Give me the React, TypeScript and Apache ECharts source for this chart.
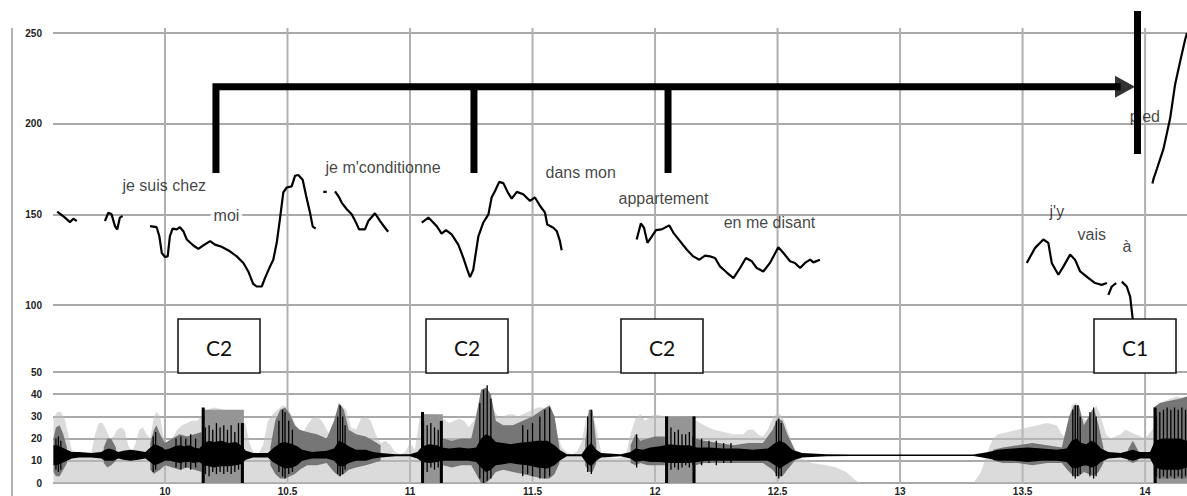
import React, { useEffect, useRef } from "react";
import * as echarts from "echarts";

// ---------- axes ----------
const timeMin = 9.543;
const timeMax = 14.171;
const timeTicks = [10, 10.5, 11, 11.5, 12, 12.5, 13, 13.5, 14];
const f0Min = 100;
const f0Max = 250;
const f0Step = 50;
const intMin = 0;
const intMax = 50;
const intStep = 10;

// ---------- F0 contour (time s, Hz) ----------
const f0SegA = [[9.560, 151.5], [9.592, 148.2], [9.612, 145.7], [9.626, 147.6], [9.640, 146.3]];
const f0SegB = [[9.755, 146.3], [9.769, 150.9], [9.782, 150.0], [9.796, 143.5], [9.805, 141.7], [9.816, 148.2], [9.827, 149.1]];
const f0SegC = [[9.939, 143.5], [9.966, 142.9], [9.977, 137.9], [9.987, 128.7], [10.000, 126.5], [10.011, 126.8], [10.020, 137.9], [10.031, 142.1], [10.048, 141.7], [10.061, 142.9], [10.075, 140.7], [10.089, 136.1], [10.116, 132.8], [10.136, 130.9], [10.156, 132.8], [10.184, 135.2], [10.204, 133.3], [10.231, 132.1], [10.265, 129.6], [10.293, 126.8], [10.320, 123.2], [10.340, 118.5], [10.360, 111.7], [10.374, 110.2], [10.395, 110.2], [10.408, 114.8], [10.429, 121.3], [10.442, 125.0], [10.456, 134.3], [10.469, 147.2], [10.483, 162.1], [10.497, 164.8], [10.517, 165.4], [10.531, 171.3], [10.544, 171.7], [10.562, 169.1], [10.576, 160.2], [10.592, 150.9], [10.603, 143.2], [10.615, 142.2]];
const f0SegDash = [[10.646, 162.4], [10.660, 162.4]];
const f0SegD = [[10.694, 162.6], [10.711, 159.3], [10.721, 156.5], [10.742, 152.8], [10.762, 150.0], [10.780, 145.4], [10.792, 141.7], [10.816, 141.7], [10.830, 146.3], [10.857, 150.6], [10.878, 146.3], [10.898, 142.6], [10.911, 140.4]];
const f0SegE = [[11.048, 145.4], [11.075, 148.2], [11.089, 146.3], [11.109, 143.5], [11.129, 139.4], [11.147, 141.3], [11.170, 138.9], [11.197, 133.3], [11.218, 125.9], [11.234, 119.4], [11.245, 115.4], [11.258, 119.4], [11.279, 137.9], [11.299, 145.4], [11.320, 150.0], [11.333, 159.3], [11.347, 162.9], [11.364, 167.9], [11.381, 167.2], [11.399, 162.1], [11.415, 158.7], [11.436, 162.4], [11.462, 161.1], [11.490, 157.4], [11.510, 159.3], [11.531, 154.6], [11.551, 150.9], [11.560, 144.4], [11.585, 142.6], [11.599, 140.7], [11.612, 135.2], [11.619, 130.2]];
const f0SegF = [[11.925, 136.1], [11.942, 145.0], [11.955, 142.6], [11.969, 134.3], [11.987, 137.9], [12.004, 141.3], [12.027, 141.7], [12.058, 143.9], [12.075, 139.8], [12.102, 135.2], [12.129, 130.6], [12.156, 126.8], [12.181, 125.0], [12.204, 127.2], [12.224, 126.8], [12.245, 125.9], [12.265, 121.3], [12.293, 117.9], [12.320, 114.8], [12.347, 120.4], [12.371, 125.9], [12.395, 124.1], [12.415, 120.4], [12.442, 118.5], [12.469, 123.2], [12.503, 131.8], [12.524, 128.7], [12.551, 124.1], [12.571, 123.2], [12.592, 120.4], [12.612, 123.2], [12.633, 125.0], [12.646, 123.5], [12.673, 125.0]];
const f0SegG = [[13.517, 123.2], [13.551, 131.5], [13.585, 136.1], [13.605, 134.3], [13.619, 123.2], [13.646, 116.7], [13.667, 121.3], [13.694, 127.8], [13.714, 125.0], [13.735, 118.5], [13.769, 114.8], [13.796, 112.1], [13.823, 111.1], [13.844, 112.1]];
const f0SegH1 = [[13.850, 105.6], [13.864, 110.2], [13.882, 112.1]];
const f0SegH2 = [[13.905, 112.9], [13.925, 110.2], [13.939, 104.6], [13.950, 91.7]];
const f0SegI = [[14.030, 167.0], [14.034, 169.4], [14.048, 175.0], [14.075, 186.1], [14.102, 202.8], [14.122, 221.3], [14.143, 234.3], [14.163, 246.1], [14.171, 250.0]];
const f0Segments = [f0SegA, f0SegB, f0SegC, f0SegDash, f0SegD, f0SegE, f0SegF, f0SegG, f0SegH1, f0SegH2, f0SegI];

// ---------- bracket annotation (time s, Hz) ----------
const bracketMain = [[10.208, 172.8], [10.208, 220.3], [13.90, 220.3]];
const bracketDrop2 = [[11.261, 220.3], [11.261, 172.8]];
const bracketDrop3 = [[12.053, 220.3], [12.053, 172.8]];
const c1Bar = [[13.969, 262.2], [13.969, 183.3]];
const arrowHead = [[13.918, 220.3]];

// ---------- words (time s, Hz, text) ----------
const words: [number, number, string][] = [
  [9.8245, 166.1, "je suis chez"],
  [10.184, 149.4, "moi"],
  [10.653, 176.1, "je m'conditionne"],
  [11.551, 173.3, "dans mon"],
  [11.849, 158.9, "appartement"],
  [12.278, 145.6, "en me disant"],
  [13.608, 151.7, "j'y"],
  [13.722, 138.9, "vais"],
  [13.906, 132.2, "à"],
  [13.935, 203.9, "pied"],
];

// ---------- intensity panel (time s, dB) ----------
const lightEnv = [[9.545, 29], [9.56, 32], [9.575, 32], [9.59, 29], [9.605, 22], [9.62, 15], [9.65, 13], [9.68, 13], [9.70, 14], [9.715, 22], [9.73, 27], [9.745, 27], [9.76, 24], [9.775, 20], [9.79, 21], [9.805, 24], [9.82, 25], [9.835, 24], [9.85, 17], [9.865, 14], [9.88, 18], [9.895, 24], [9.91, 25], [9.925, 22], [9.94, 20], [9.955, 30], [9.965, 32], [9.98, 30], [9.995, 20], [10.01, 18], [10.03, 20], [10.05, 24], [10.07, 26], [10.09, 27], [10.11, 28], [10.13, 28], [10.15, 30], [10.17, 33], [10.20, 34], [10.24, 33], [10.28, 32], [10.31, 30], [10.33, 26], [10.345, 18], [10.36, 14], [10.38, 13], [10.40, 17], [10.42, 28], [10.44, 31], [10.46, 33], [10.48, 35], [10.50, 34], [10.52, 30], [10.54, 24], [10.56, 22], [10.58, 26], [10.60, 29], [10.62, 30], [10.64, 28], [10.66, 24], [10.68, 20], [10.70, 26], [10.72, 35], [10.74, 33], [10.76, 25], [10.78, 24], [10.80, 29], [10.82, 30], [10.84, 28], [10.86, 22], [10.88, 18], [10.90, 19], [10.92, 17], [10.94, 14], [10.96, 13], [10.98, 14], [11.00, 18], [11.02, 15], [11.04, 30], [11.06, 31], [11.10, 31], [11.135, 29], [11.16, 27], [11.18, 28], [11.20, 29], [11.22, 28], [11.24, 25], [11.26, 28], [11.28, 35], [11.30, 42], [11.32, 40], [11.34, 33], [11.36, 30], [11.38, 30], [11.40, 31], [11.42, 31], [11.44, 30], [11.46, 31], [11.48, 32], [11.50, 33], [11.52, 34], [11.54, 34], [11.56, 33], [11.58, 30], [11.60, 22], [11.62, 16], [11.64, 14], [11.66, 13], [11.68, 14], [11.70, 18], [11.72, 30], [11.74, 33], [11.76, 25], [11.78, 14], [11.80, 12], [11.84, 11], [11.88, 12], [11.90, 22], [11.92, 29], [11.94, 31], [11.96, 28], [11.98, 30], [12.00, 31], [12.04, 30], [12.10, 30], [12.17, 28], [12.20, 26], [12.24, 24], [12.28, 23], [12.32, 22], [12.36, 22], [12.38, 24], [12.40, 24], [12.42, 22], [12.44, 21], [12.46, 24], [12.48, 29], [12.50, 32], [12.52, 30], [12.54, 24], [12.56, 18], [12.58, 13], [12.60, 11], [12.64, 9], [12.70, 8], [12.74, 7], [12.78, 5], [12.80, 3], [12.82, 1], [12.84, 0], [13.30, 0], [13.33, 5], [13.36, 15], [13.38, 20], [13.40, 22], [13.44, 23], [13.48, 24], [13.52, 25], [13.56, 26], [13.60, 27], [13.64, 26], [13.66, 22], [13.68, 20], [13.70, 35], [13.72, 36], [13.74, 30], [13.76, 28], [13.78, 30], [13.80, 35], [13.82, 30], [13.84, 22], [13.86, 20], [13.88, 21], [13.90, 22], [13.92, 24], [13.96, 22], [14.00, 20], [14.03, 24], [14.06, 36], [14.10, 38], [14.13, 39], [14.171, 38]];

// dark envelope bands: [time, low, high]
const darkBands = [
  [[9.545, 5, 20], [9.555, 3, 25], [9.57, 3, 26], [9.585, 6, 22], [9.60, 9, 16]],
  [[9.75, 9, 16], [9.765, 7, 20], [9.78, 8, 20], [9.80, 10, 16]],
  [[9.94, 6, 18], [9.955, 4, 24], [9.965, 5, 26], [9.98, 6, 22], [10.00, 8, 18], [10.03, 7, 20], [10.06, 6, 22], [10.09, 7, 21], [10.12, 6, 22], [10.15, 5, 23]],
  [[10.43, 8, 16], [10.45, 4, 28], [10.47, 2, 33], [10.49, 2, 34], [10.51, 3, 31], [10.53, 4, 26], [10.55, 6, 24], [10.58, 8, 23], [10.62, 8, 22], [10.66, 9, 20], [10.69, 5, 28], [10.71, 3, 36], [10.73, 4, 33], [10.75, 6, 24], [10.78, 7, 22], [10.82, 8, 21], [10.85, 9, 19], [10.88, 10, 17]],
  [[11.135, 8, 20], [11.17, 7, 19], [11.21, 8, 20], [11.25, 8, 20], [11.27, 4, 30], [11.29, 0, 42], [11.31, 0, 43], [11.33, 2, 40], [11.35, 5, 28], [11.38, 6, 26], [11.42, 5, 26], [11.46, 4, 28], [11.50, 3, 30], [11.54, 2, 33], [11.57, 2, 35], [11.59, 4, 30], [11.61, 9, 16]],
  [[11.715, 8, 18], [11.73, 5, 33], [11.745, 5, 33], [11.76, 9, 18]],
  [[11.90, 9, 17], [11.92, 8, 22], [11.94, 9, 19], [11.97, 8, 20], [12.00, 8, 21], [12.04, 8, 21]],
  [[12.165, 8, 20], [12.20, 9, 19], [12.26, 9, 18], [12.32, 9, 17], [12.38, 9, 18], [12.44, 9, 18], [12.48, 6, 24], [12.50, 3, 29], [12.52, 3, 28], [12.54, 6, 22], [12.57, 10, 15]],
  [[13.38, 10, 15], [13.42, 9, 16], [13.48, 9, 17], [13.54, 8, 18], [13.60, 9, 17], [13.66, 9, 16], [13.69, 5, 30], [13.71, 3, 35], [13.73, 3, 35], [13.75, 5, 26], [13.77, 4, 30], [13.79, 3, 34], [13.81, 5, 26], [13.83, 9, 16]],
  [[13.93, 10, 15], [13.95, 9, 19], [13.97, 10, 15]],
  [[14.035, 3, 34], [14.06, 2, 36], [14.10, 2, 37], [14.14, 2, 38], [14.171, 2, 39]],
];

// waveform core band: [time, low, high]
const waveBand = [[9.545, 8, 17], [9.56, 8, 17], [9.58, 9, 16], [9.60, 10, 15], [9.62, 11, 14], [9.65, 11.5, 14], [9.70, 11.5, 13.5], [9.74, 11, 14], [9.755, 10, 15], [9.77, 10, 15.5], [9.79, 10, 15], [9.81, 11, 14], [9.83, 10.5, 14.5], [9.86, 10, 15], [9.89, 10.5, 14.5], [9.92, 11, 14], [9.94, 9.5, 16], [9.955, 8, 17.5], [9.97, 8.5, 17], [9.99, 9.5, 16], [10.00, 10, 15], [10.02, 10, 15.5], [10.04, 9.5, 16.5], [10.06, 9, 17], [10.08, 9.5, 16.5], [10.10, 9.5, 17], [10.12, 9, 16], [10.14, 9.5, 15.5], [10.16, 8, 18], [10.18, 7.5, 19], [10.20, 7, 18.5], [10.23, 7.5, 19], [10.26, 7.5, 18], [10.29, 8, 18.5], [10.31, 8.5, 17], [10.33, 10.5, 14.5], [10.36, 11.5, 13.5], [10.42, 11.5, 13.5], [10.44, 9.5, 15.5], [10.47, 7.5, 18], [10.49, 6.5, 18.5], [10.52, 7, 17.5], [10.54, 8, 16.5], [10.56, 10, 15], [10.60, 11, 14], [10.66, 11, 14.5], [10.69, 10, 15.5], [10.71, 7.5, 19], [10.73, 7.5, 18], [10.75, 9, 16.5], [10.78, 10, 15], [10.82, 10, 15], [10.85, 11, 14], [10.88, 11.5, 13.5], [10.94, 12, 13], [11.00, 12, 13], [11.03, 11, 14], [11.05, 9.5, 16.5], [11.08, 9, 17.5], [11.11, 9.5, 17], [11.13, 10, 16], [11.16, 10, 15.5], [11.20, 10, 16], [11.24, 10, 15.5], [11.27, 9.5, 16], [11.29, 7, 20], [11.31, 5, 22], [11.33, 6, 21], [11.35, 8, 18.5], [11.38, 8.5, 18], [11.41, 9, 17.5], [11.44, 8.5, 18], [11.48, 8, 18.5], [11.52, 7, 19], [11.56, 6.5, 19], [11.59, 8, 17], [11.61, 10, 15], [11.64, 12, 13], [11.70, 12, 13], [11.72, 9, 16], [11.74, 7.5, 18], [11.76, 10, 15], [11.78, 11.5, 13.5], [11.86, 12, 13], [11.90, 11, 14], [11.92, 9.5, 15.5], [11.95, 10, 15], [11.98, 9.5, 16], [12.02, 9.5, 16.5], [12.06, 9, 17.5], [12.10, 9, 17], [12.14, 9, 17], [12.17, 9.5, 16], [12.22, 10, 16], [12.28, 10, 15.5], [12.34, 10, 15.5], [12.40, 10, 15], [12.46, 10, 15.5], [12.49, 8, 18], [12.51, 6.5, 19], [12.53, 8, 18], [12.56, 10, 15], [12.60, 11.5, 13.5], [12.70, 12, 13], [12.80, 12.2, 12.8], [13.30, 12.2, 12.8], [13.36, 11, 14], [13.40, 10, 15], [13.46, 10, 15.5], [13.52, 9.5, 16], [13.58, 10, 15.5], [13.64, 10, 15], [13.68, 9.5, 15.5], [13.70, 7, 19], [13.72, 6.5, 20], [13.74, 7.5, 18], [13.76, 8, 17.5], [13.78, 7, 19], [13.80, 7.5, 18], [13.82, 9.5, 15.5], [13.85, 11, 14], [13.90, 11.5, 13.5], [13.95, 10, 15], [13.98, 11, 14], [14.02, 11, 14], [14.04, 7, 19], [14.07, 6, 20], [14.10, 6, 20], [14.14, 6, 20], [14.171, 7, 19]];

// waveform peaks: [time, low, high]
const waveSpikes = [
  [9.555, 6, 20], [9.565, 5, 21], [9.575, 6, 19],
  [9.952, 5, 21], [9.962, 6, 23], [10.045, 7, 20], [10.065, 6, 21], [10.085, 7, 20], [10.105, 6, 22], [10.125, 7, 20],
  [10.165, 4, 25], [10.18, 3, 26], [10.195, 5, 24], [10.21, 4, 27], [10.225, 5, 25], [10.24, 4, 26], [10.255, 5, 24], [10.27, 4, 26], [10.285, 5, 23], [10.30, 6, 27], [10.315, 7, 22],
  [10.465, 5, 28], [10.48, 3, 33], [10.49, 2, 32], [10.505, 4, 28], [10.52, 5, 24],
  [10.705, 4, 30], [10.715, 3, 35], [10.725, 4, 30], [10.735, 6, 26],
  [11.055, 6, 28], [11.07, 5, 26], [11.085, 7, 27], [11.10, 6, 25], [11.115, 7, 24],
  [11.285, 2, 36], [11.30, 0, 42], [11.315, 1, 44], [11.33, 2, 38],
  [11.46, 3, 26], [11.48, 4, 24], [11.50, 3, 27], [11.53, 2, 30], [11.55, 2, 33], [11.57, 3, 34],
  [11.725, 5, 30], [11.74, 4, 33],
  [11.925, 7, 22], [12.05, 7, 24], [12.065, 6, 25], [12.08, 7, 23], [12.095, 6, 24], [12.11, 7, 22], [12.125, 8, 22], [12.14, 7, 23], [12.155, 8, 21],
  [12.19, 8, 20], [12.22, 9, 19], [12.25, 8, 19], [12.28, 9, 18], [12.31, 9, 18],
  [12.495, 3, 28], [12.505, 2, 29], [12.515, 3, 27],
  [13.705, 3, 33], [13.715, 2, 35], [13.725, 3, 35], [13.735, 4, 30], [13.775, 3, 32], [13.79, 2, 34], [13.80, 3, 30],
  [14.045, 3, 30], [14.06, 2, 32], [14.075, 3, 33], [14.09, 2, 34], [14.105, 3, 33], [14.12, 2, 34], [14.135, 3, 33], [14.15, 2, 34], [14.165, 3, 33],
];

// selected regions: [start, end, fill top, left bar top, right bar top]
const selections = [
  [10.150, 10.322, 33, 34, 27],
  [11.045, 11.134, 31, 32, 28],
  [12.041, 12.165, 30, 30, 30],
  [14.035, 14.171, 34, 34, 0],
];

// ---------- boxes (labels) ----------
const boxLabels = ["C2", "C2", "C2", "C1"];
const boxLefts = [178, 426, 621, 1094];

const FONT = "'Liberation Sans', Arial, Helvetica, sans-serif";

function bandRender(bands: number[][][], color: string) {
  return (params: any, api: any) => {
    const seg = bands[params.dataIndex];
    const top = seg.map((p) => api.coord([p[0], p[2]]));
    const bot = seg.slice().reverse().map((p) => api.coord([p[0], p[1]]));
    return {
      type: "polygon",
      shape: { points: top.concat(bot) },
      style: { fill: color },
      silent: true,
    };
  };
}

export default function App() {
  const ref = useRef<HTMLDivElement>(null);
  useEffect(() => {
    if (!ref.current) return;
    const chart = echarts.init(ref.current, null, { renderer: "svg" });

    const f0Series = f0Segments.map((seg) => ({
      type: "line",
      xAxisIndex: 1,
      yAxisIndex: 1,
      data: seg,
      symbol: "none",
      clip: false,
      silent: true,
      z: 10,
      lineStyle: { color: "#000", width: 2.2 },
    }));

    const thick = (data: number[][]) => ({
      type: "line",
      xAxisIndex: 1,
      yAxisIndex: 1,
      data,
      symbol: "none",
      clip: false,
      silent: true,
      z: 12,
      lineStyle: { color: "#000", width: 7, cap: "butt", join: "miter" },
    });

    const graphic: any[] = [
      {
        type: "line",
        shape: { x1: 12, y1: 28, x2: 12, y2: 496 },
        style: { stroke: "#9a9a9a", lineWidth: 1.5 },
        z: 1,
      },
    ];
    boxLabels.forEach((lab, i) => {
      graphic.push({
        type: "rect",
        shape: { x: boxLefts[i], y: 319, width: 82, height: 54 },
        style: { fill: "#fff", stroke: "#1a1a1a", lineWidth: 1.6 },
        z: 20,
      });
      graphic.push({
        type: "text",
        x: boxLefts[i] + 41,
        y: 347,
        style: {
          text: lab,
          fill: "#111",
          fontSize: 21,
          fontFamily: "Lato, 'Open Sans', sans-serif",
          align: "center",
          verticalAlign: "middle",
        },
        z: 21,
      });
    });

    const option: any = {
      animation: false,
      backgroundColor: "#fff",
      grid: [
        { left: 53, right: 0, top: 28, bottom: 12 },
        { left: 53, right: 0, top: 33, height: 272 },
        { left: 53, right: 0, top: 372, height: 112 },
      ],
      xAxis: [
        { type: "value", gridIndex: 0, min: timeMin, max: timeMax, show: false },
        { type: "value", gridIndex: 1, min: timeMin, max: timeMax, show: false },
        {
          type: "value",
          gridIndex: 2,
          min: timeMin,
          max: timeMax,
          axisLine: { show: false },
          axisTick: { show: false },
          splitLine: { show: false },
          axisLabel: {
            customValues: timeTicks,
            fontSize: 10,
            fontWeight: "bold",
            color: "#222",
            fontFamily: FONT,
            margin: 3,
          },
        },
      ],
      yAxis: [
        { type: "value", gridIndex: 0, min: 0, max: 1, show: false },
        {
          type: "value",
          gridIndex: 1,
          min: f0Min,
          max: f0Max,
          interval: f0Step,
          axisLine: { show: false },
          axisTick: { show: false },
          splitLine: { lineStyle: { color: "#a9a9a9", width: 2 } },
          axisLabel: { fontSize: 10, fontWeight: "bold", color: "#222", fontFamily: FONT, margin: 11 },
        },
        {
          type: "value",
          gridIndex: 2,
          min: intMin,
          max: intMax,
          interval: intStep,
          axisLine: { show: false },
          axisTick: { show: false },
          splitLine: { lineStyle: { color: "#a9a9a9", width: 2 } },
          axisLabel: { fontSize: 10, fontWeight: "bold", color: "#222", fontFamily: FONT, margin: 11 },
        },
      ],
      graphic,
      series: [
        {
          type: "custom",
          xAxisIndex: 0,
          yAxisIndex: 0,
          data: timeTicks.map((t) => [t, 0]),
          silent: true,
          z: 0,
          renderItem: (params: any, api: any) => {
            const t = api.value(0);
            const a = api.coord([t, 0]);
            const b = api.coord([t, 1]);
            return {
              type: "line",
              shape: { x1: a[0], y1: a[1], x2: b[0], y2: b[1] },
              style: { stroke: "#b0b0b0", lineWidth: 2 },
            };
          },
        },
        {
          type: "line",
          xAxisIndex: 2,
          yAxisIndex: 2,
          data: lightEnv,
          symbol: "none",
          silent: true,
          z: 1,
          lineStyle: { opacity: 0 },
          areaStyle: { color: "#bebebe", opacity: 0.55 },
        },
        {
          type: "custom",
          xAxisIndex: 2,
          yAxisIndex: 2,
          data: selections.map((s) => [s[0], 0]),
          silent: true,
          z: 2,
          renderItem: (params: any, api: any) => {
            const s = selections[params.dataIndex];
            const p0 = api.coord([s[0], 0]);
            const p1 = api.coord([s[1], s[2]]);
            return {
              type: "rect",
              shape: { x: p0[0], y: p1[1], width: p1[0] - p0[0], height: p0[1] - p1[1] },
              style: { fill: "#959595" },
            };
          },
        },
        {
          type: "custom",
          xAxisIndex: 2,
          yAxisIndex: 2,
          data: darkBands.map((b) => [b[0][0], b[0][1]]),
          silent: true,
          z: 3,
          renderItem: bandRender(darkBands, "#767676"),
        },
        {
          type: "custom",
          xAxisIndex: 2,
          yAxisIndex: 2,
          data: [[waveBand[0][0], waveBand[0][1]]],
          silent: true,
          z: 4,
          renderItem: bandRender([waveBand], "#000"),
        },
        {
          type: "custom",
          xAxisIndex: 2,
          yAxisIndex: 2,
          data: waveSpikes.map((s) => [s[0], s[1], s[2]]),
          silent: true,
          z: 4,
          renderItem: (params: any, api: any) => {
            const t = api.value(0);
            const a = api.coord([t, api.value(1)]);
            const b = api.coord([t, api.value(2)]);
            return {
              type: "line",
              shape: { x1: a[0], y1: a[1], x2: b[0], y2: b[1] },
              style: { stroke: "#000", lineWidth: 1.3 },
            };
          },
        },
        {
          type: "custom",
          xAxisIndex: 2,
          yAxisIndex: 2,
          data: selections.map((s) => [s[0], 0]),
          silent: true,
          z: 5,
          renderItem: (params: any, api: any) => {
            const s = selections[params.dataIndex];
            const children: any[] = [];
            const a0 = api.coord([s[0], 0]);
            const a1 = api.coord([s[0], s[3]]);
            children.push({
              type: "line",
              shape: { x1: a0[0] + 1.5, y1: a0[1], x2: a1[0] + 1.5, y2: a1[1] },
              style: { stroke: "#000", lineWidth: 3 },
            });
            if (s[4] > 0) {
              const b0 = api.coord([s[1], 0]);
              const b1 = api.coord([s[1], s[4]]);
              children.push({
                type: "line",
                shape: { x1: b0[0] - 1.5, y1: b0[1], x2: b1[0] - 1.5, y2: b1[1] },
                style: { stroke: "#000", lineWidth: 3 },
              });
            }
            return { type: "group", children };
          },
        },
        {
          type: "scatter",
          xAxisIndex: 1,
          yAxisIndex: 1,
          symbolSize: 1,
          silent: true,
          z: 9,
          itemStyle: { color: "rgba(0,0,0,0)" },
          data: words.map((w) => ({
            value: [w[0], w[1]],
            name: w[2],
            label:
              w[2] === "moi"
                ? { backgroundColor: "#fff", padding: [1, 3] }
                : undefined,
          })),
          label: {
            show: true,
            position: "right",
            distance: 0,
            formatter: "{b}",
            fontSize: 16,
            fontFamily: FONT,
            color: "#111",
          },
        },
        ...f0Series,
        thick(bracketMain),
        thick(bracketDrop2),
        thick(bracketDrop3),
        thick(c1Bar),
        {
          type: "scatter",
          xAxisIndex: 1,
          yAxisIndex: 1,
          data: arrowHead,
          symbol: "triangle",
          symbolRotate: -90,
          symbolSize: [22, 20],
          silent: true,
          z: 13,
          itemStyle: { color: "#000" },
        },
      ],
    };
    chart.setOption(option);
    return () => chart.dispose();
  }, []);

  return (
    <div
      ref={ref}
      style={{ position: "absolute", left: 0, top: 0, width: 1187, height: 496, background: "#fff" }}
    />
  );
}
